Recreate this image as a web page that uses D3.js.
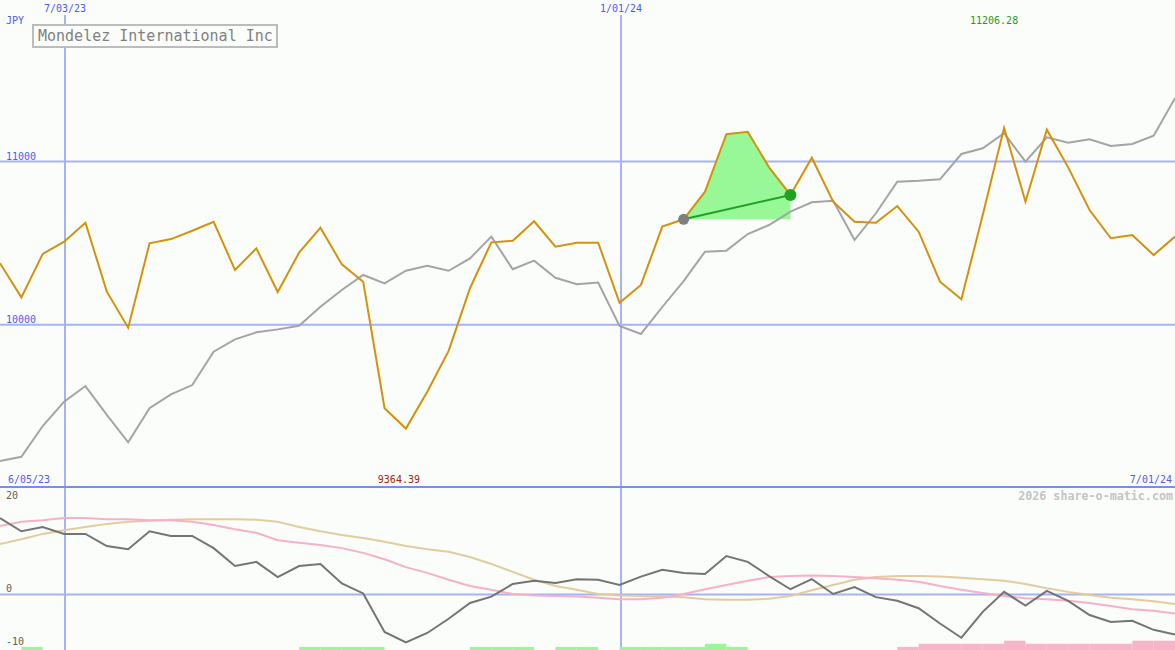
<!DOCTYPE html>
<html><head><meta charset="utf-8">
<script src="https://cdn.jsdelivr.net/npm/d3@7"></script>
<style>
html,body{margin:0;padding:0;background:#fbfdfb;}
svg{display:block;}
text{font-family:"DejaVu Sans Mono","Liberation Mono",monospace;}
</style></head>
<body>
<svg id="chart" width="1175" height="650"></svg>
<script>
// ---------- DATA ----------
const dates = ["2023-06-12","2023-06-19","2023-06-26","2023-07-03","2023-07-10","2023-07-17","2023-07-24","2023-07-31",
"2023-08-07","2023-08-14","2023-08-21","2023-08-28","2023-09-04","2023-09-11","2023-09-18","2023-09-25",
"2023-10-02","2023-10-09","2023-10-16","2023-10-23","2023-10-30","2023-11-06","2023-11-13","2023-11-20",
"2023-11-27","2023-12-04","2023-12-11","2023-12-18","2023-12-25","2024-01-01","2024-01-08","2024-01-15",
"2024-01-22","2024-01-29","2024-02-05","2024-02-12","2024-02-19","2024-02-26","2024-03-04","2024-03-11",
"2024-03-18","2024-03-25","2024-04-01","2024-04-08","2024-04-15","2024-04-22","2024-04-29","2024-05-06",
"2024-05-13","2024-05-20","2024-05-27","2024-06-03","2024-06-10","2024-06-17","2024-06-24","2024-07-01"];

const price = [10377,10168,10434,10509,10625,10203,9982,10499,10525,10576,10631,10336,10468,10201,10442,10595,
10370,10264,9489,9364.39,9590,9840,10224,10505,10515,10634,10478,10503,10503,10135,10244,10601,
10646,10815,11167,11182,10964,10795,11023,10754,10631,10625,10727,10570,10264,10156,10672,11206.28,
10754,11195,10964,10703,10530,10550,10427,10540];

const compare = [9166,9192,9380,9529,9625,9448,9280,9489,9574,9631,9835,9911,9954,9972,9994,10111,
10213,10305,10254,10331,10362,10331,10407,10540,10340,10393,10288,10248,10259,9993,9944,10109,
10268,10448,10454,10556,10611,10693,10750,10760,10519,10683,10876,10882,10891,11046,11081,11173,
10999,11148,11115,11136,11095,11107,11158,11387];

const oscLine = [14.5,12.0,12.8,11.5,11.5,9.2,8.6,12.0,11.1,11.1,8.8,5.4,6.2,3.3,5.4,5.8,
2.1,0.2,-7.1,-9.1,-7.3,-4.6,-1.6,-0.4,2.0,2.6,2.2,2.9,2.8,1.8,3.4,4.7,
4.1,3.9,7.3,6.2,3.5,1.0,2.9,0.1,1.4,-0.5,-1.2,-2.6,-5.5,-8.2,-3.3,0.5,
-2.1,0.7,-1.2,-3.9,-5.2,-5.0,-6.7,-7.6];

const pinkLine = [13.0,13.8,14.1,14.5,14.5,14.3,14.3,14.1,14.1,13.8,13.2,12.4,11.7,10.3,9.8,9.4,
8.8,7.9,6.7,5.2,4.1,2.8,1.6,0.9,0.1,-0.2,-0.3,-0.4,-0.6,-0.9,-0.9,-0.6,
0.1,1.0,1.8,2.6,3.3,3.5,3.6,3.5,3.3,3.1,2.8,2.4,1.6,0.9,0.3,-0.3,
-0.7,-0.9,-1.2,-1.6,-2.2,-2.8,-3.1,-3.6];

const tanLine = [9.6,10.5,11.5,12.2,12.8,13.4,13.8,14.0,14.2,14.3,14.3,14.3,14.2,13.8,12.8,12.0,
11.3,10.7,10.0,9.2,8.6,8.1,7.1,5.8,4.3,2.8,1.6,0.9,0.1,-0.2,-0.3,-0.4,
-0.5,-0.9,-1.0,-1.0,-0.8,-0.3,0.8,1.8,2.8,3.3,3.5,3.5,3.4,3.2,2.9,2.6,
2.0,1.2,0.5,-0.1,-0.6,-0.9,-1.3,-1.8];

const hist = [0,1,0,0,0,0,0,0,0,0,0,0,0,0,1,1,
1,1,0,0,0,0,1,1,1,0,1,1,0,1,1,1,
1,2,1,0,0,0,0,0,0,0,-1,-2,-2,-2,-2,-3,
-2,-2,-2,-2,-2,-3,-3,0];

const priceTicks = [10000, 11000];
const oscTicks = [20, 0, -10];
const dateTicks = ["2023-07-03","2024-01-01"];
const dateTickLabels = ["7/03/23","1/01/24"];
const title = "Mondelez International Inc";
const currency = "JPY";
const startLabel = "6/05/23", endLabel = "7/01/24";
const maxLabel = "11206.28", minLabel = "9364.39";
const credit = "2026 share-o-matic.com";
const gainStart = 32, gainEnd = 37;

// ---------- SCALES ----------
const W = 1175, H = 650;
const parse = d3.timeParse("%Y-%m-%d");
const D = dates.map(parse);
const x = d3.scaleTime().domain([D[0], D[D.length-1]]).range([0, W]);
const y = d3.scaleLinear().domain([10000, 11000]).range([324.8, 161.5]);
const yo = d3.scaleLinear().domain([0, 20]).range([594.5, 489.1]);
const hScale = d3.scaleLinear().domain([0, 1]).range([0, 3.1]);

const svg = d3.select("#chart");
svg.append("rect").attr("width", W).attr("height", H).attr("fill", "#fbfdfb");

const gridC = "#a6b3f2", blue = "#4b5cf0";

// horizontal gridlines (price)
svg.selectAll(".hg").data(priceTicks).enter().append("line")
  .attr("x1", 0).attr("x2", W).attr("y1", d => y(d)).attr("y2", d => y(d))
  .attr("stroke", gridC).attr("stroke-width", 2);
svg.selectAll(".hgl").data(priceTicks).enter().append("text")
  .attr("x", 6).attr("y", d => y(d) - 2).attr("font-size", 10).attr("fill", blue).text(d => d);

// oscillator zero line
svg.append("line").attr("x1", 0).attr("x2", W).attr("y1", yo(0)).attr("y2", yo(0))
  .attr("stroke", gridC).attr("stroke-width", 2);

// vertical date gridlines
dateTicks.forEach((t, i) => {
  const xx = Math.round(x(parse(t))) + 1;
  svg.append("line").attr("x1", xx).attr("x2", xx).attr("y1", 15).attr("y2", H)
    .attr("stroke", gridC).attr("stroke-width", 2);
  svg.append("text").attr("x", xx).attr("y", 12).attr("text-anchor", "middle")
    .attr("font-size", 10).attr("fill", blue).text(dateTickLabels[i]);
});

// separator
svg.append("line").attr("x1", 0).attr("x2", W).attr("y1", 487).attr("y2", 487)
  .attr("stroke", "#7c8bee").attr("stroke-width", 2);

// histogram bars
const hb = hist.map((v, i) => ({v, i})).filter(d => d.v !== 0 && d.i < D.length - 1);
svg.selectAll(".hb").data(hb).enter().append("rect")
  .attr("x", d => x(D[d.i])).attr("width", d => x(D[d.i+1]) - x(D[d.i]))
  .attr("y", d => H - hScale(Math.abs(d.v))).attr("height", d => hScale(Math.abs(d.v)))
  .attr("fill", d => d.v > 0 ? "#98f898" : "#f8b4c8");

// gain polygon
const base = price[gainStart];
const poly = [];
for (let i = gainStart; i <= gainEnd; i++) poly.push([x(D[i]), y(price[i])]);
poly.push([x(D[gainEnd]), y(base)]);
svg.append("path").attr("d", "M" + poly.map(p => p.join(",")).join("L") + "Z")
  .attr("fill", "#98f898");

// lines
const lineP = d3.line().x((d, i) => x(D[i])).y(d => y(d));
const lineO = d3.line().x((d, i) => x(D[i])).y(d => yo(d));

svg.append("path").datum(compare).attr("d", lineP).attr("fill", "none")
  .attr("stroke", "#a4a4a4").attr("stroke-width", 2);
svg.append("path").datum(price).attr("d", lineP).attr("fill", "none")
  .attr("stroke", "#d4920c").attr("stroke-width", 2);

svg.append("path").datum(tanLine).attr("d", lineO).attr("fill", "none")
  .attr("stroke", "#e2cc9c").attr("stroke-width", 2);
svg.append("path").datum(pinkLine).attr("d", lineO).attr("fill", "none")
  .attr("stroke", "#f8b0c8").attr("stroke-width", 2);
svg.append("path").datum(oscLine).attr("d", lineO).attr("fill", "none")
  .attr("stroke", "#747474").attr("stroke-width", 2);

// gain segment + dots
svg.append("line").attr("x1", x(D[gainStart])).attr("y1", y(price[gainStart]))
  .attr("x2", x(D[gainEnd])).attr("y2", y(price[gainEnd]))
  .attr("stroke", "#22a022").attr("stroke-width", 2);
svg.append("circle").attr("cx", x(D[gainStart])).attr("cy", y(price[gainStart])).attr("r", 5.5).attr("fill", "#808080");
svg.append("circle").attr("cx", x(D[gainEnd])).attr("cy", y(price[gainEnd])).attr("r", 6).attr("fill", "#22a022");

// oscillator labels
svg.selectAll(".ol").data(oscTicks).enter().append("text")
  .attr("x", 6).attr("y", d => d === 20 ? 499 : d === 0 ? 592 : 645)
  .attr("font-size", 10).attr("fill", "#606060").text(d => d);

// texts
svg.append("text").attr("x", 6).attr("y", 24).attr("font-size", 10).attr("fill", blue).text(currency);
svg.append("text").attr("x", 8).attr("y", 483).attr("font-size", 10).attr("fill", blue).text(startLabel);
svg.append("text").attr("x", W - 3).attr("y", 483).attr("text-anchor", "end").attr("font-size", 10).attr("fill", blue).text(endLabel);
svg.append("text").attr("x", x(D[47]) - 10).attr("y", 24).attr("text-anchor", "middle").attr("font-size", 10).attr("fill", "#1f9a1f").text(maxLabel);
svg.append("text").attr("x", x(D[19]) - 7).attr("y", 483).attr("text-anchor", "middle").attr("font-size", 10).attr("fill", "#a82020").text(minLabel);
svg.append("text").attr("x", W - 2).attr("y", 500).attr("text-anchor", "end").attr("font-size", 11.7).attr("font-weight", "bold").attr("fill", "#c4c4c4").text(credit);

// title box
svg.append("rect").attr("x", 33).attr("y", 25).attr("width", 244).attr("height", 22)
  .attr("fill", "#fbfdfb").attr("stroke", "#bcbcbc").attr("stroke-width", 2);
svg.append("text").attr("x", 38).attr("y", 41).attr("font-size", 15).attr("fill", "#808080").text(title);
</script>
</body></html>
